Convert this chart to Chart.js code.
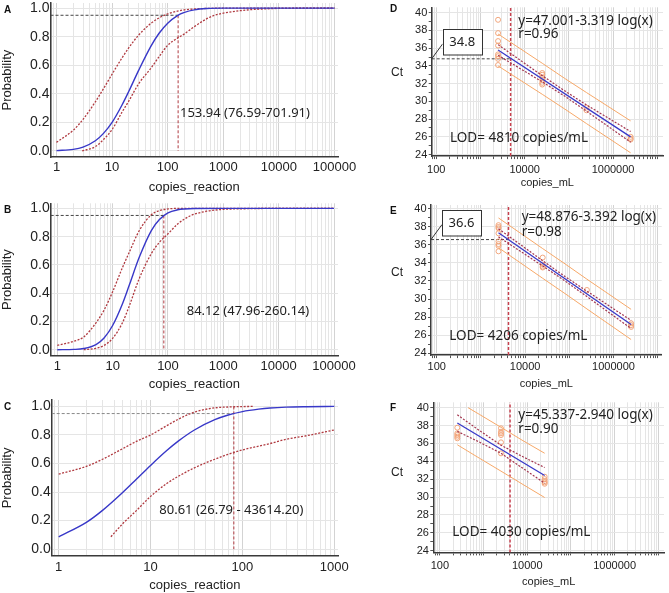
<!DOCTYPE html>
<html>
<head>
<meta charset="utf-8">
<script src="https://cdn.jsdelivr.net/npm/chart.js@4.4.1/dist/chart.umd.min.js"></script>
<style>
html,body{margin:0;padding:0;background:#fff;}
#fig{position:relative;width:669px;height:593px;overflow:hidden;background:#fff;}
canvas{position:absolute;}
.lbl{position:absolute;font:bold 10px "Liberation Sans",Arial,sans-serif;color:#111;line-height:1;}
.ct{position:absolute;font:12px "Liberation Sans",Arial,sans-serif;color:#222;line-height:1;}
</style>
</head>
<body>
<div id="fig">
  <canvas id="cA"></canvas>
  <canvas id="cB"></canvas>
  <canvas id="cC"></canvas>
  <canvas id="cD"></canvas>
  <canvas id="cE"></canvas>
  <canvas id="cF"></canvas>
  <div class="lbl" style="left:4px;top:5px">A</div>
  <div class="lbl" style="left:4px;top:205px">B</div>
  <div class="lbl" style="left:4px;top:402px">C</div>
  <div class="lbl" style="left:390px;top:4px">D</div>
  <div class="lbl" style="left:390px;top:206px">E</div>
  <div class="lbl" style="left:390px;top:403px">F</div>
  <div class="ct" style="left:391px;top:66px">Ct</div>
  <div class="ct" style="left:391px;top:266px">Ct</div>
  <div class="ct" style="left:391px;top:466px">Ct</div>
</div>
<script>
// ================= DATA =================
// tick labels
const probTickLabels = [0, 0.2, 0.4, 0.6, 0.8, 1.0];
const ctTicks = [24,25,26,27,28,29,30,31,32,33,34,35,36,37,38,39,40];
const ctTickLabels = [24,26,28,30,32,34,36,38,40];
const reactionTickLabelsAB = [1,10,100,1000,10000,100000];
const reactionTickLabelsC = [1,10,100,1000];
const copiesTickLabels = [100,10000,1000000];

const p95 = 0.95;

// Panel A (probit, copies/reaction)
const aLod = 153.94;
const aFitX = [1,2,3,5,7,10,15,20,30,50,70,100,150,200,300,500,1000,10000,100000];
const aFitP = [0.002,0.011,0.027,0.071,0.123,0.200,0.320,0.418,0.564,0.734,0.824,0.895,0.948,0.970,0.988,0.997,1.000,1.000,1.000];
const aUpX  = [1,2,3,5,7,10,15,20,30,50,70,100,150,200,300,500,1000,10000,100000];
const aUpP  = [0.060,0.145,0.221,0.344,0.436,0.538,0.650,0.723,0.811,0.894,0.932,0.960,0.979,0.988,0.994,0.998,1.000,1.000,1.000];
const aLoX  = [2.9,5,7,10,15,20,30,50,70,100,150,200,300,500,700,1000,2000,3000,5000,10000,100000];
const aLoP  = [0.000,0.030,0.080,0.150,0.270,0.350,0.470,0.580,0.660,0.740,0.790,0.820,0.870,0.925,0.950,0.965,0.982,0.989,0.994,0.998,1.000];

// Panel B
const bLod = 84.12;
const bFitX = [1,2,3,5,7,10,15,20,30,50,70,100,150,200,300,1000,100000];
const bFitP = [0.000,0.002,0.008,0.036,0.083,0.171,0.323,0.457,0.650,0.843,0.921,0.968,0.990,0.996,0.999,1.000,1.000];
const bUpX  = [1,2,3,5,7,10,15,20,30,50,70,100,150,1000,100000];
const bUpP  = [0.030,0.060,0.090,0.190,0.280,0.410,0.580,0.690,0.840,0.955,0.985,0.996,1.000,1.000,1.000];
const bLoX  = [3,5,7,10,15,20,30,50,70,100,150,200,260,500,1000,3000,10000,100000];
const bLoP  = [0.000,0.010,0.030,0.080,0.190,0.310,0.500,0.680,0.760,0.820,0.890,0.925,0.950,0.980,0.993,0.998,1.000,1.000];

// Panel C
const cLod = 80.61;
const cFitX = [1,2,3,5,7,10,15,20,30,50,70,100,150,200,300,500,1000];
const cFitP = [0.087,0.188,0.272,0.399,0.490,0.587,0.691,0.757,0.835,0.907,0.940,0.964,0.981,0.989,0.995,0.998,1.000];
const cUpX  = [1,2,3,5,7,10,15,20,30,50,70,100,130];
const cUpP  = [0.526,0.580,0.630,0.705,0.755,0.800,0.865,0.910,0.960,0.990,0.996,0.999,1.000];
const cLoX  = [3.7,5,7,10,15,20,30,50,70,100,200,300,500,1000];
const cLoP  = [0.087,0.180,0.270,0.370,0.460,0.510,0.570,0.630,0.665,0.695,0.740,0.770,0.795,0.835];

// Panel D (Ct vs copies/mL)
const dLodX = 4810, dLodCt = 34.8;
const dPtX = [2500,2500,2500,2500,2500,2500,2500,2500, 25000,25000,25000,25000,25000,25000, 250000,250000, 2500000,2500000,2500000];
const dPtY = [39.2,37.7,36.8,36.3,35.3,35.1,34.8,34.1, 33.2,33.0,32.7,32.4,32.1,31.9, 29.3,29.0, 26.0,25.8,25.7];
const dFitX = [2500, 2500000];
const dFitY = [35.8, 26.0];
const dBandX = [2500, 25000, 80000, 250000, 2500000];
const dCiUp = [36.4, 32.9, 31.2, 29.6, 26.6];
const dCiLo = [35.2, 32.2, 30.6, 28.9, 25.4];
const dPiUp = [37.6, 34.3, 32.6, 31.0, 27.8];
const dPiLo = [34.0, 30.8, 29.15, 27.5, 24.2];

// Panel E
const eLodX = 4206, eLodCt = 36.6;
const ePtX = [2500,2500,2500,2500,2500,2500,2500,2500, 25000,25000,25000,25000, 250000, 2500000,2500000,2500000];
const ePtY = [38.2,38.0,37.85,37.3,36.4,36.1,35.9,35.3, 34.6,33.8,33.6,33.5, 31.0, 27.3,27.1,26.9];
const eFitX = [2500, 2500000];
const eFitY = [37.35, 27.17];
const eBandX = [2500, 25000, 80000, 250000, 2500000];
const eCiUp = [37.8, 34.25, 32.5, 30.87, 27.62];
const eCiLo = [36.9, 33.67, 32.0, 30.27, 26.72];
const ePiUp = [39.0, 35.6, 33.9, 32.2, 28.85];
const ePiLo = [35.7, 32.3, 30.6, 28.9, 25.5];

// Panel F
const fLodX = 4030;
const fPtX = [250,250,250,250,250, 2500,2500,2500,2500,2500,2500, 25000,25000,25000,25000,25000];
const fPtY = [37.76,37.13,36.94,36.75,36.57, 37.69,37.31,37.13,36.94,36.12,34.89, 32.28,32.01,31.79,31.64,31.49];
const fFitX = [250, 25000];
const fFitY = [38.29, 32.41];
const fBandX = [250, 800, 2500, 8000, 25000];
const fCiUp = [39.2, 37.45, 35.8, 34.5, 33.3];
const fCiLo = [37.35, 36.15, 34.9, 33.2, 31.55];
const fPiUpX = [440, 800, 2500, 8000, 25000];
const fPiUp = [40.0, 39.25, 37.8, 36.3, 34.9];
const fPiLo = [35.85, 34.35, 32.9, 31.4, 29.95];

// ================= STYLE / HELPERS =================
const BLUE = '#3838c8', RED = '#b03a40', ORANGE = '#f7a868', CIRED = '#a3364f', PTOR = '#f2a67c';
const GRID_MINOR = '#e5e5e5', GRID_MAJOR = '#d3d3d3';

const pts = (xs, ys) => xs.map((x, i) => ({x: x, y: ys[i]}));
const curve = (xs, ys, color, dash, w) => ({
  data: pts(xs, ys), borderColor: color, borderWidth: w || 1.3, borderDash: dash || [],
  pointRadius: 0, fill: false, cubicInterpolationMode: 'monotone'
});
const straight = (xs, ys, color, dash, w) => ({
  data: pts(xs, ys), borderColor: color, borderWidth: w || 1, borderDash: dash || [],
  pointRadius: 0, fill: false, tension: 0
});
const scatter = (xs, ys) => ({
  data: pts(xs, ys), showLine: false, pointRadius: 2.5, pointStyle: 'circle',
  pointBorderColor: PTOR, pointBackgroundColor: 'rgba(0,0,0,0)', pointBorderWidth: 1,
  borderColor: PTOR, backgroundColor: 'rgba(0,0,0,0)'
});

function logGrid(min, max) {
  const out = [];
  for (let k = -1; k <= 7; k++) for (let m = 1; m <= 9; m++) {
    const v = m * Math.pow(10, k);
    if (v >= min && v <= max) out.push(v);
  }
  return out;
}
const isDecade = v => Math.abs(Math.log10(v) - Math.round(Math.log10(v))) < 1e-9;

function annot(p) {
  return {
    id: 'annot',
    afterDatasetsDraw(chart) {
      const ctx = chart.ctx;
      ctx.save();
      if (p.box) {
        const a = chart.chartArea;
        const lvl = chart.scales.y.getPixelForValue(p.box.value);
        const bx = a.left + 11, by = lvl - 30, bw = 39, bh = 25.5;
        ctx.strokeStyle = '#333'; ctx.lineWidth = 1;
        ctx.beginPath(); ctx.moveTo(bx, lvl - 15); ctx.lineTo(a.left, lvl); ctx.stroke();
        ctx.fillStyle = '#fff'; ctx.fillRect(bx, by, bw, bh);
        ctx.strokeRect(Math.round(bx) + 0.5, Math.round(by) + 0.5, bw, bh);
        ctx.fillStyle = '#222'; ctx.font = '13px "Noto Sans"';
        ctx.textAlign = 'center'; ctx.textBaseline = 'middle';
        ctx.fillText(p.box.text, bx + bw / 2, by + bh / 2 + 0.5);
      }
      (p.texts || []).forEach(t => {
        ctx.fillStyle = '#222'; ctx.font = t.size + 'px "Noto Sans"';
        ctx.textAlign = 'left'; ctx.textBaseline = 'middle';
        ctx.fillText(t.text, t.x - p.left, t.y - p.top);
      });
      ctx.restore();
    }
  };
}

function panel(p) {
  const cv = document.getElementById(p.id);
  cv.width = p.w; cv.height = p.h;
  cv.style.left = p.left + 'px'; cv.style.top = p.top + 'px';
  cv.style.width = p.w + 'px'; cv.style.height = p.h + 'px';
  const font = {family: 'Liberation Sans', size: p.fs};
  const yFont = {family: 'Liberation Sans', size: p.yfs || p.fs};
  new Chart(cv, {
    type: 'line',
    data: {datasets: p.datasets},
    options: {
      responsive: false, animation: false, devicePixelRatio: 1,
      layout: {padding: {left: 0, top: p.padTop, right: p.w - p.areaRight, bottom: 0}},
      plugins: {legend: {display: false}, tooltip: {enabled: false}},
      scales: {
        x: {
          type: 'logarithmic', min: p.xMin, max: p.xMax,
          afterBuildTicks: s => { s.ticks = logGrid(p.xMin, p.xMax).map(v => ({value: v})); },
          afterFit: s => { s.height = p.xH; s.paddingLeft = 0; s.paddingRight = 0; },
          ticks: {autoSkip: false, maxRotation: 0, minRotation: 0, padding: p.xPad, font: font, color: '#222',
                  callback: v => p.xLabels.includes(v) ? String(v) : ''},
          grid: {color: c => (c.tick && isDecade(c.tick.value)) ? GRID_MAJOR : GRID_MINOR,
                 drawTicks: p.xTickMarks, tickLength: 3, tickColor: '#555'},
          border: {display: true, color: '#3a3a3a', width: 1.5},
          title: {display: true, text: p.xTitle, font: font, color: '#222', padding: 0}
        },
        y: {
          type: 'linear', min: p.yMin, max: p.yMax,
          afterBuildTicks: s => { s.ticks = p.yTicks.map(v => ({value: v})); },
          afterFit: s => { s.width = p.yW; s.paddingTop = 0; s.paddingBottom = 0; },
          ticks: {autoSkip: false, padding: p.yPad, font: yFont, color: '#222', callback: v => p.yLabel(v)},
          grid: {color: c => (c.tick && p.yLabel(c.tick.value) !== '') ? GRID_MINOR : 'rgba(0,0,0,0)',
                 drawTicks: p.yTickMarks, tickLength: 3, tickColor: '#555'},
          border: {display: true, color: '#3a3a3a', width: 1.5},
          title: p.yTitle ? {display: true, text: p.yTitle, font: font, color: '#222', padding: 0} : {display: false}
        }
      }
    },
    plugins: [annot(p)]
  });
}

const probLabel = v => probTickLabels.includes(v) ? v.toFixed(1) : '';
const ctLabel = v => ctTickLabels.includes(v) ? String(v) : '';
const DOT = [2, 1.5], DASH = [3, 2];

// ================= PANELS =================
const abcCommon = {w: 370, areaRight: 338, fs: 13, yfs: 14, yMin: -0.044, yMax: 1.036, yTicks: probTickLabels,
  yLabel: probLabel, yPad: 1, yTickMarks: false, xTickMarks: false, xTitle: 'copies_reaction', yTitle: 'Probability'};

panel(Object.assign({}, abcCommon, {
  id: 'cA', left: 0, top: 0, h: 195, padTop: 3, yW: 50.5, xH: 37.8, xPad: 2,
  xMin: 0.78, xMax: 115600, xLabels: reactionTickLabelsAB,
  texts: [{text: '153.94 (76.59-701.91)', x: 180, y: 113, size: 13}],
  datasets: [
    curve(aFitX, aFitP, BLUE, [], 1.4),
    curve(aUpX, aUpP, RED, DOT),
    curve(aLoX, aLoP, RED, DOT),
    straight([aLod, aLod], [p95, 0], RED, DASH),
    straight([0.78, aLod], [p95, p95], '#444', DASH)
  ]
}));

panel(Object.assign({}, abcCommon, {
  id: 'cB', left: 0, top: 200, h: 192, padTop: 3.3, yW: 50.7, xH: 36.1, xPad: 3,
  xMin: 0.76, xMax: 118000, xLabels: reactionTickLabelsAB,
  texts: [{text: '84.12 (47.96-260.14)', x: 186.7, y: 311.7, size: 13}],
  datasets: [
    curve(bFitX, bFitP, BLUE, [], 1.4),
    curve(bUpX, bUpP, RED, DOT),
    curve(bLoX, bLoP, RED, DOT),
    straight([bLod, bLod], [p95, 0], RED, DASH),
    straight([0.76, bLod], [p95, p95], '#444', DASH)
  ]
}));

panel(Object.assign({}, abcCommon, {
  id: 'cC', left: 0, top: 397, h: 196, padTop: 3, yW: 51.7, xH: 37.1, xPad: 4,
  yMin: -0.047, yMax: 1.045,
  xMin: 0.839, xMax: 1097, xLabels: reactionTickLabelsC,
  texts: [{text: '80.61 (26.79 - 43614.20)', x: 159.3, y: 510, size: 13}],
  datasets: [
    curve(cFitX, cFitP, BLUE, [], 1.4),
    curve(cUpX, cUpP, RED, DOT),
    curve(cLoX, cLoP, RED, DOT),
    straight([cLod, cLod], [1.0, 0], RED, DASH),
    straight([0.839, cLod], [p95, p95], '#888', DASH)
  ]
}));

const defCommon = {w: 294, left: 375, fs: 11, yTicks: ctTicks, yLabel: ctLabel, yPad: 1.4,
  yTickMarks: true, xTickMarks: true, xTitle: 'copies_mL', yTitle: null, xLabels: copiesTickLabels};

panel(Object.assign({}, defCommon, {
  id: 'cD', top: 0, h: 190, padTop: 7.3, areaRight: 288, yW: 56.7, xH: 33.9, xPad: 3.9,
  yMin: 23.83, yMax: 40.61, xMin: 78.7, xMax: 1.35e7,
  box: {value: dLodCt, text: '34.8'},
  texts: [
    {text: 'y=47.001-3.319 log(x)', x: 518.3, y: 20.7, size: 13.5},
    {text: 'r=0.96', x: 518.3, y: 34, size: 13.5},
    {text: 'LOD= 4810 copies/mL', x: 450, y: 138.3, size: 13.5}
  ],
  datasets: [
    straight(dFitX, dFitY, BLUE, [], 1.3),
    straight(dBandX, dCiUp, CIRED, DOT, 1.2),
    straight(dBandX, dCiLo, CIRED, DOT, 1.2),
    straight(dBandX, dPiUp, ORANGE, [], 1),
    straight(dBandX, dPiLo, ORANGE, [], 1),
    scatter(dPtX, dPtY),
    straight([dLodX, dLodX], [23.83, 40.61], '#c8404e', DASH, 1.5),
    straight([78.7, dLodX], [dLodCt, dLodCt], '#444', DASH)
  ]
}));

panel(Object.assign({}, defCommon, {
  id: 'cE', top: 195, h: 196, padTop: 10, areaRight: 286.7, yW: 56, xH: 35.9, xPad: 2.1,
  yMin: 23.77, yMax: 40.44, xMin: 74.3, xMax: 1.23e7,
  box: {value: eLodCt, text: '36.6'},
  texts: [
    {text: 'y=48.876-3.392 log(x)', x: 521.7, y: 216.7, size: 13.5},
    {text: 'r=0.98', x: 521.7, y: 231.7, size: 13.5},
    {text: 'LOD= 4206 copies/mL', x: 449.3, y: 336, size: 13.5}
  ],
  datasets: [
    straight(eFitX, eFitY, BLUE, [], 1.3),
    straight(eBandX, eCiUp, CIRED, DOT, 1.2),
    straight(eBandX, eCiLo, CIRED, DOT, 1.2),
    straight(eBandX, ePiUp, ORANGE, [], 1),
    straight(eBandX, ePiLo, ORANGE, [], 1),
    scatter(ePtX, ePtY),
    straight([eLodX, eLodX], [23.77, 40.44], '#c8404e', DASH, 1.5),
    straight([74.3, eLodX], [eLodCt, eLodCt], '#444', DASH)
  ]
}));

panel(Object.assign({}, defCommon, {
  id: 'cF', top: 395, h: 194, padTop: 7.3, areaRight: 291.7, yW: 58.3, xH: 36.6, xPad: 4,
  yMin: 23.81, yMax: 40.6, xMin: 70.5, xMax: 1.35e7,
  texts: [
    {text: 'y=45.337-2.940 log(x)', x: 518.3, y: 415, size: 13.5},
    {text: 'r=0.90', x: 518.3, y: 429.3, size: 13.5},
    {text: 'LOD= 4030 copies/mL', x: 452.3, y: 531.7, size: 13.5}
  ],
  datasets: [
    straight(fFitX, fFitY, BLUE, [], 1.3),
    straight(fBandX, fCiUp, CIRED, DOT, 1.2),
    straight(fBandX, fCiLo, CIRED, DOT, 1.2),
    straight(fPiUpX, fPiUp, ORANGE, [], 1),
    straight(fBandX, fPiLo, ORANGE, [], 1),
    scatter(fPtX, fPtY),
    straight([fLodX, fLodX], [23.81, 40.6], '#c8404e', DASH, 1.5)
  ]
}));
</script>
</body>
</html>
